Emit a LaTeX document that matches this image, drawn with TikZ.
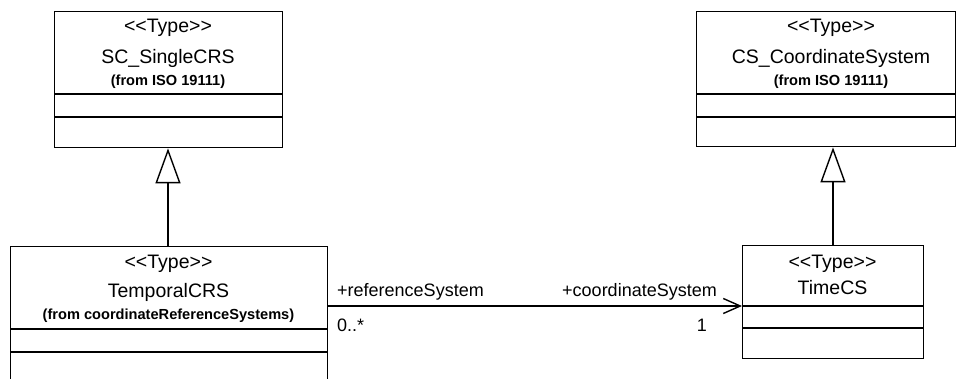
\documentclass[tikz,border=0pt]{standalone}
\usepackage{fontspec}
\setmainfont{Liberation Sans}
\usetikzlibrary{arrows.meta}
\newcommand{\stypetext}{<\kern0pt<Type>\kern0pt>}
\tikzset{
  umlbox/.style={draw, line width=1.4pt, inner sep=0pt, anchor=north west},
  sepline/.style={line width=1.4pt},
  stereo/.style={anchor=base, inner sep=0pt, font=\fontsize{19.5}{22}\selectfont},
  cname/.style={anchor=base, inner sep=0pt, font=\fontsize{19.5}{22}\selectfont},
  origin/.style={anchor=base, inner sep=0pt, font=\fontsize{14.6}{17}\selectfont\bfseries},
  rolelabel/.style={inner sep=0pt, font=\fontsize{18}{20}\selectfont},
  inherit/.style={line width=1.4pt, -{Triangle[open, length=35pt, width=25pt, fill=white]}},
  assoc/.style={line width=1.4pt, -{Straight Barb[length=17pt, width=15pt]}}
}
\begin{document}
\begin{tikzpicture}[x=1pt, y=-1pt]
\useasboundingbox (0,0) rectangle (956,379);
\clip (0,0) rectangle (956,379);
% SC_SingleCRS
\node[umlbox, minimum width=228pt, minimum height=136pt] (sc) at (54,11) {};
\draw[sepline] (54,94) -- (282,94);
\draw[sepline] (54,117) -- (282,117);
\node[stereo] (scst) at (168,33) {\stypetext};
\node[cname] (scnm) at (168,64) {SC\_SingleCRS};
\node[origin] (scor) at (168,86) {(from ISO 19111)};
% CS_CoordinateSystem
\node[umlbox, minimum width=259pt, minimum height=135pt] (cs) at (696,11) {};
\draw[sepline] (696,94) -- (955,94);
\draw[sepline] (696,117) -- (955,117);
\node[stereo] (csst) at (831,33) {\stypetext};
\node[cname] (csnm) at (831,64) {CS\_CoordinateSystem};
\node[origin] (csor) at (831,86) {(from ISO 19111)};
% TemporalCRS
\node[umlbox, minimum width=317pt, minimum height=160pt] (tc) at (10,246) {};
\draw[sepline] (10,329) -- (327,329);
\draw[sepline] (10,352) -- (327,352);
\node[stereo] (tcst) at (168.5,269) {\stypetext};
\node[cname] (tcnm) at (168.5,298) {TemporalCRS};
\node[origin] (tcor) at (168.5,320) {(from coordinateReferenceSystems)};
% TimeCS
\node[umlbox, minimum width=181pt, minimum height=113pt] (ts) at (742,245) {};
\draw[sepline] (742,306) -- (923,306);
\draw[sepline] (742,328) -- (923,328);
\node[stereo] (tsst) at (832.5,269) {\stypetext};
\node[cname] (tsnm) at (832.5,295) {TimeCS};
% connectors
\coordinate (tcport) at (327,306);
\coordinate (tsport) at (742,306);
\draw[inherit] (tc.north -| 168,0) -- (sc.south -| 168,0);
\draw[inherit] (ts.north -| 833,0) -- (cs.south -| 833,0);
\draw[assoc] (tcport) -- (tsport);
\node[rolelabel, anchor=base west] (r1) at (337,297) {+referenceSystem};
\node[rolelabel, anchor=base east] (r2) at (717,297) {+coordinateSystem};
\node[rolelabel, anchor=base west] (m1) at (337,332) {0..*};
\node[rolelabel, anchor=base east] (m2) at (707,332) {1};
\end{tikzpicture}
\end{document}
